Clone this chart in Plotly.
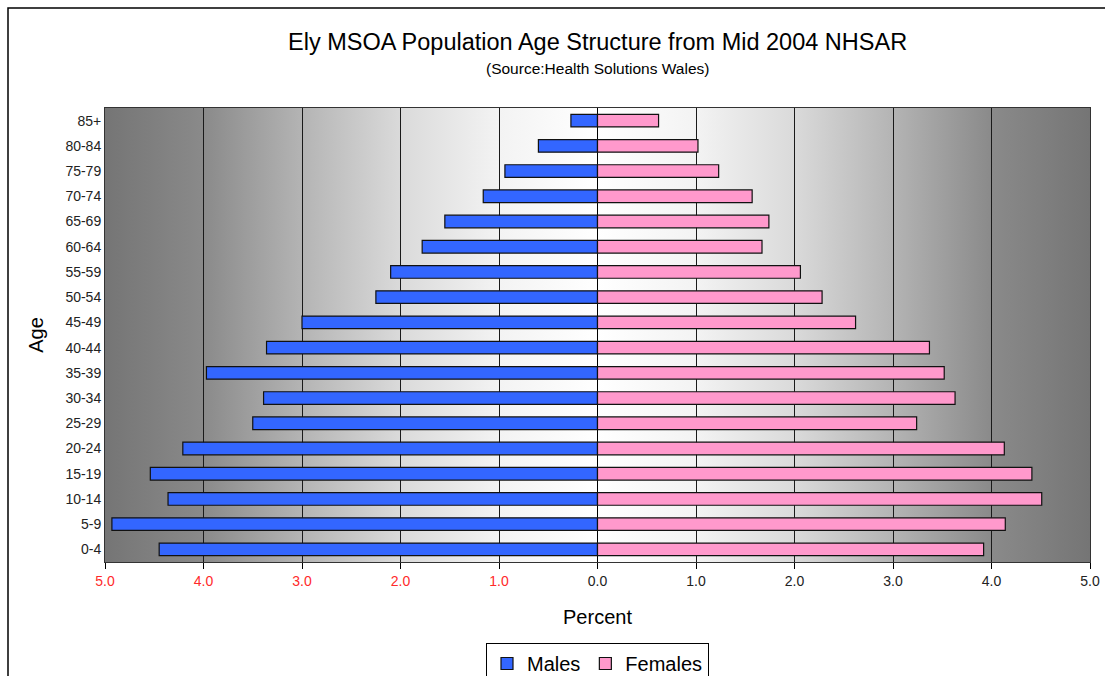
import base64
import plotly.graph_objects as go

age_groups = ["0-4", "5-9", "10-14", "15-19", "20-24", "25-29", "30-34", "35-39",
              "40-44", "45-49", "50-54", "55-59", "60-64", "65-69", "70-74",
              "75-79", "80-84", "85+"]
males = [4.45, 4.93, 4.36, 4.54, 4.21, 3.50, 3.39, 3.97, 3.36, 3.00, 2.25, 2.10,
         1.78, 1.55, 1.16, 0.94, 0.60, 0.27]
females = [3.92, 4.14, 4.51, 4.41, 4.13, 3.24, 3.63, 3.52, 3.37, 2.62, 2.28, 2.06,
           1.67, 1.74, 1.57, 1.23, 1.02, 0.62]
tick_vals = [-5, -4, -3, -2, -1, 0, 1, 2, 3, 4, 5]
tick_labels = ["5.0", "4.0", "3.0", "2.0", "1.0", "0.0", "1.0", "2.0", "3.0", "4.0", "5.0"]

FONT = "Liberation Sans, Arial, sans-serif"

fig = go.Figure()
fig.add_trace(go.Bar(
    y=age_groups, x=[-v for v in males], orientation="h", name="Males",
    marker=dict(color="#3366FF", line=dict(color="#111111", width=1.2)),
    width=0.5, customdata=males, hovertemplate="%{y}: %{customdata}%<extra>Males</extra>"))
fig.add_trace(go.Bar(
    y=age_groups, x=females, orientation="h", name="Females",
    marker=dict(color="#FF99CC", line=dict(color="#111111", width=1.2)),
    width=0.5, hovertemplate="%{y}: %{x}%<extra>Females</extra>"))

# gradient background image (white centre, dark grey edges) as inline SVG
grad_stops = [(0.0, 255), (1.0, 243), (2.0, 218), (3.0, 180), (4.0, 138), (5.0, 117)]
stops = []
for d, g in reversed(grad_stops):
    stops.append((0.5 - d / 10.0, g))
for d, g in grad_stops[1:]:
    stops.append((0.5 + d / 10.0, g))
stop_xml = "".join(
    f"<stop offset='{o:.3f}' stop-color='rgb({g},{g},{g})'/>" for o, g in stops)
svg = ("<svg xmlns='http://www.w3.org/2000/svg' width='1000' height='100' "
       "preserveAspectRatio='none'><defs><linearGradient id='g' x1='0' y1='0' x2='1' y2='0'>"
       f"{stop_xml}</linearGradient></defs><rect x='0' y='0' width='1000' height='100' "
       "fill='url(#g)'/></svg>")
svg_uri = "data:image/svg+xml;base64," + base64.b64encode(svg.encode()).decode()

# layout geometry (pixels)
W, H = 1105, 676
L, R, T, B = 105, 15, 108, 114
plot_h = H - T - B
plot_w = W - L - R

def py(px):  # pixel y -> paper y
    return (H - B - px) / plot_h

def pxx(px):  # pixel x -> paper x
    return (px - L) / plot_w

shapes = [dict(type="rect", xref="paper", yref="paper", x0=pxx(8), x1=pxx(1120),
               y0=py(700), y1=py(8), line=dict(color="#000000", width=1.5),
               fillcolor="rgba(0,0,0,0)", layer="above")]

ticktext = [f"<span style='color:#FF2A2A'>{t}</span>" if v < 0 else t
            for v, t in zip(tick_vals, tick_labels)]

fig.update_layout(
    width=W, height=H,
    margin=dict(l=L, r=R, t=T, b=B, autoexpand=False),
    paper_bgcolor="white", plot_bgcolor="white",
    barmode="relative", bargap=0.5,
    font=dict(family=FONT, color="#000000"),
    shapes=shapes,
    images=[dict(source=svg_uri, xref="paper", yref="paper", x=0, y=1, sizex=1, sizey=1,
                 xanchor="left", yanchor="top", sizing="stretch", layer="below")],
    showlegend=True,
    legend=dict(orientation="h", x=0.5, xanchor="center", xref="paper",
                y=1 - 643 / H, yanchor="top", yref="container",
                font=dict(size=20, family=FONT), bordercolor="#000000", borderwidth=1,
                bgcolor="white", traceorder="normal", itemwidth=30),
    xaxis=dict(range=[-5, 5], tickvals=tick_vals, ticktext=ticktext,
               showgrid=True, gridcolor="#1a1a1a", gridwidth=1,
               zeroline=True, zerolinecolor="#000000", zerolinewidth=1.2,
               showline=True, linecolor="#333333", linewidth=1, mirror=True,
               ticks="outside", ticklen=6, tickcolor="#000000",
               tickfont=dict(size=14, color="#222222"), automargin=False,
               title=dict(text="Percent", font=dict(size=20), standoff=22),
               fixedrange=True),
    yaxis=dict(type="category", categoryorder="array", categoryarray=age_groups,
               range=[-0.5, 17.5], showgrid=False, zeroline=False,
               showline=True, linecolor="#333333", linewidth=1, mirror=True,
               ticks="", tickfont=dict(size=14, color="#222222"), automargin=False,
               title=dict(text="Age", font=dict(size=20), standoff=16),
               fixedrange=True),
    yaxis2=dict(overlaying="y", anchor="free", position=0.5, range=[-0.5, 17.5],
                tickvals=[i + 0.5 for i in range(17)], showticklabels=False,
                ticks="outside", ticklen=5, tickcolor="#000000",
                showline=True, linecolor="#000000", linewidth=1,
                showgrid=False, zeroline=False, fixedrange=True, automargin=False),
    annotations=[
        dict(text="Ely MSOA Population Age Structure from Mid 2004 NHSAR", xref="paper",
             yref="paper", x=0.5, y=py(42), xanchor="center",
             yanchor="middle", showarrow=False, font=dict(size=23.5, family=FONT)),
        dict(text="(Source:Health Solutions Wales)", xref="paper", yref="paper",
             x=0.5, y=py(68), xanchor="center", yanchor="middle",
             showarrow=False, font=dict(size=15.5, family=FONT)),
    ],
)

fig.write_html("out.html", config={"displayModeBar": False},
               post_script="document.body.style.margin='0';document.body.style.overflow='hidden';")
